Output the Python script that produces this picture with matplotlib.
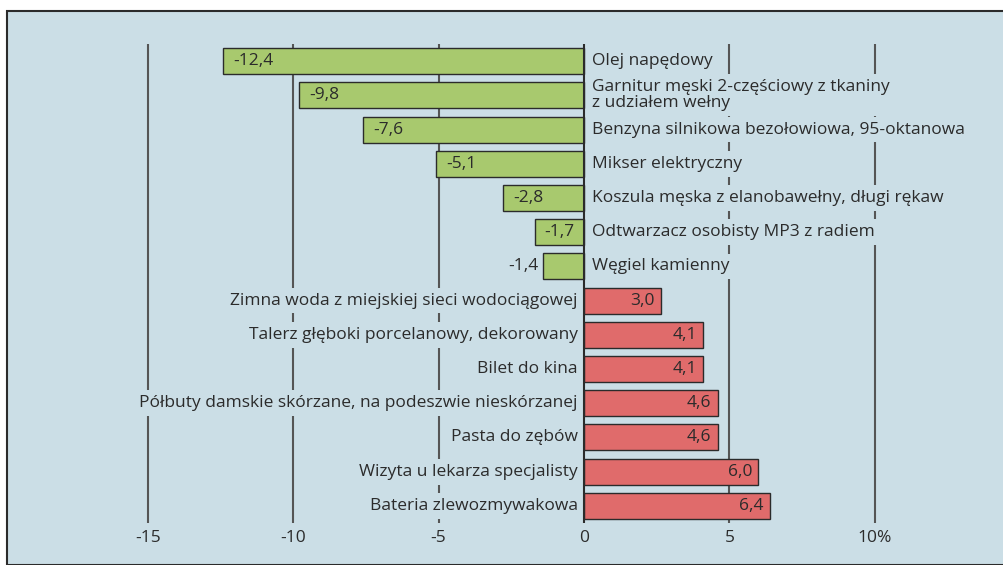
import matplotlib.pyplot as plt
from matplotlib.patches import Rectangle

plt.rcParams['font.family'] = ['Open Sans', 'DejaVu Sans']

categories = [
    "Olej napędowy",
    "Garnitur męski 2-częściowy z tkaniny\nz udziałem wełny",
    "Benzyna silnikowa bezołowiowa, 95-oktanowa",
    "Mikser elektryczny",
    "Koszula męska z elanobawełny, długi rękaw",
    "Odtwarzacz osobisty MP3 z radiem",
    "Węgiel kamienny",
    "Zimna woda z miejskiej sieci wodociągowej",
    "Talerz głęboki porcelanowy, dekorowany",
    "Bilet do kina",
    "Półbuty damskie skórzane, na podeszwie nieskórzanej",
    "Pasta do zębów",
    "Wizyta u lekarza specjalisty",
    "Bateria zlewozmywakowa",
]
# bar lengths as drawn in the picture (the "3,0" bar is drawn shorter)
values = [-12.4, -9.8, -7.6, -5.1, -2.8, -1.7, -1.4, 2.65, 4.1, 4.1, 4.6, 4.6, 6.0, 6.4]
value_labels = ["-12,4", "-9,8", "-7,6", "-5,1", "-2,8", "-1,7", "-1,4",
                "3,0", "4,1", "4,1", "4,6", "4,6", "6,0", "6,4"]
xticks = [-15, -10, -5, 0, 5, 10]
xticklabels = ["-15", "-10", "-5", "0", "5", "10%"]

bg = "#cbdee6"
green = "#a8c96e"
red = "#e06b6b"
dark = "#2b2b2b"

W, H = 1004, 565
fig = plt.figure(figsize=(W / 100, H / 100), dpi=100, facecolor="white")
fig.patches.append(Rectangle((7 / W, 0), 1, 1 - 11 / H, transform=fig.transFigure,
                             facecolor=bg, edgecolor=dark, linewidth=1.5, zorder=-10))

ax = fig.add_axes([7 / W, (H - 523) / H, (W - 7) / W, (523 - 44) / H])
ax.patch.set_alpha(0)
ax.set_xlim((7 - 584) / 29.08, (1004 - 584) / 29.08)
ax.set_ylim(len(values) - 0.5, -0.5)

# grid lines (labels sit on top and hide them), zero line stays visible
for t in xticks:
    if t == 0:
        ax.axvline(t, color=dark, lw=1.5, zorder=5)
    else:
        ax.axvline(t, color="#555555", lw=1.5, zorder=1)

ypos = list(range(len(values)))
colors = [green if v < 0 else red for v in values]
ax.barh(ypos, values, height=0.76, color=colors, edgecolor=dark, linewidth=1, zorder=3)

box = dict(boxstyle="square,pad=0.28", facecolor=bg, edgecolor="none")
fs = 12.5
for y, v, txt, name in zip(ypos, values, value_labels, categories):
    if v < 0:
        ax.text(0.28, y, name, ha="left", va="center", fontsize=fs, color=dark,
                bbox=box, zorder=2, linespacing=1.0)
        if v > -1.5:
            ax.text(v - 0.17, y, txt, ha="right", va="center", fontsize=fs, color=dark, zorder=4)
        else:
            ax.text(v + 0.35, y, txt, ha="left", va="center", fontsize=fs, color=dark, zorder=4)
    else:
        ax.text(-0.22, y, name, ha="right", va="center", fontsize=fs, color=dark,
                bbox=box, zorder=2)
        ax.text(v - 0.22, y, txt, ha="right", va="center", fontsize=fs, color=dark, zorder=4)

ax.set_xticks(xticks)
ax.set_xticklabels(xticklabels, fontsize=fs, color=dark)
ax.tick_params(axis="x", length=0, pad=5)
ax.set_yticks([])
for s in ax.spines.values():
    s.set_visible(False)

fig.savefig("out.png", dpi=100, facecolor="white")
